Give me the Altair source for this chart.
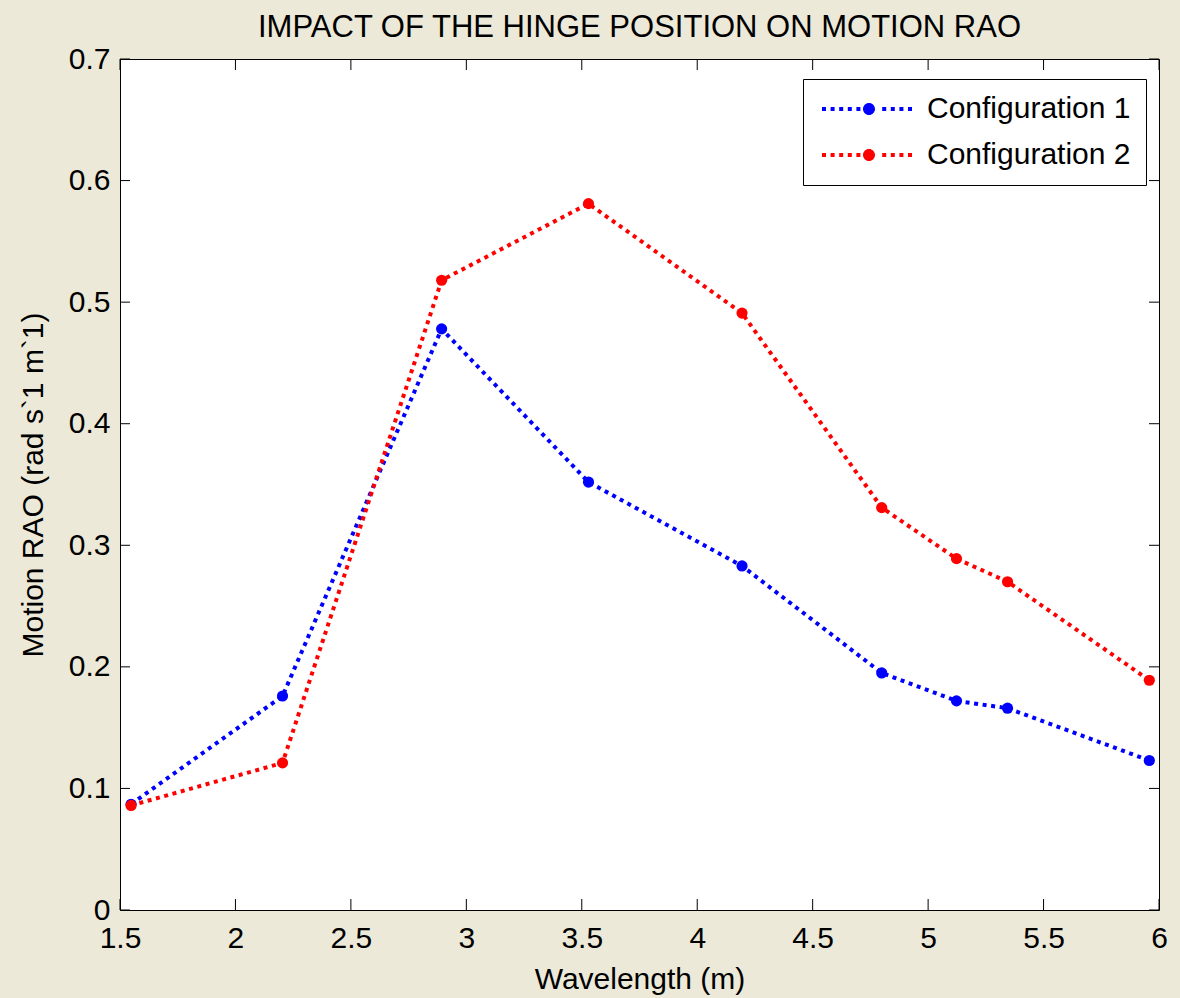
import altair as alt
import pandas as pd

# ---- data ----
wavelength = [1.548, 2.204, 2.893, 3.529, 4.194, 4.799, 5.123, 5.344, 5.958]
config1 = [0.087, 0.176, 0.478, 0.352, 0.283, 0.195, 0.172, 0.166, 0.123]
config2 = [0.086, 0.121, 0.518, 0.581, 0.491, 0.331, 0.289, 0.270, 0.189]
series_names = ["Configuration 1", "Configuration 2"]
series_colors = ["#0000FF", "#FF0000"]
x_ticks = [1.5, 2, 2.5, 3, 3.5, 4, 4.5, 5, 5.5, 6]
y_ticks = [0, 0.1, 0.2, 0.3, 0.4, 0.5, 0.6, 0.7]

rows = []
for w, a, b in zip(wavelength, config1, config2):
    rows.append({"wavelength": w, "rao": a, "series": series_names[0]})
    rows.append({"wavelength": w, "rao": b, "series": series_names[1]})
df = pd.DataFrame(rows)
xt = pd.DataFrame({"t": x_ticks})
yt = pd.DataFrame({"t": y_ticks})

W, H = 1039, 851
FONT = "Liberation Sans"
FS = 30
TICK = 11

xscale = alt.Scale(domain=[1.5, 6], nice=False, zero=False)
yscale = alt.Scale(domain=[0, 0.7], nice=False, zero=False)

# legend symbol: dotted line made of small squares + filled circle (units = px with symbolSize 4)
parts = []
x0 = -47.0
while x0 <= 44:
    c = x0 + 2
    if abs(c) > 9:
        parts.append(f"M{x0:.1f},-2L{x0+4:.1f},-2L{x0+4:.1f},2L{x0:.1f},2Z")
    x0 += 8.6
parts.append("M-6,0A6,6,0,1,1,6,0A6,6,0,1,1,-6,0Z")
legend_path = "".join(parts)

xaxis = alt.Axis(values=x_ticks, format="~f", ticks=False, domain=False, grid=False,
                 labelFontSize=FS, labelFont=FONT, labelColor="black", labelPadding=13,
                 title="Wavelength (m)", titleFontSize=FS, titleFont=FONT,
                 titleFontWeight="normal", titleColor="black", titlePadding=11,
                 labelFlush=False, labelOverlap=False)
yaxis = alt.Axis(values=y_ticks, format="~f", ticks=False, domain=False, grid=False,
                 labelFontSize=FS, labelFont=FONT, labelColor="black", labelPadding=10,
                 title="Motion RAO (rad s`1 m`1)", titleFontSize=FS, titleFont=FONT,
                 titleFontWeight="normal", titleColor="black", titlePadding=20,
                 labelOverlap=False)

line_layers = []
for name, col in zip(series_names, series_colors):
    line_layers.append(
        alt.Chart(df).transform_filter(alt.datum.series == name)
        .mark_line(strokeWidth=4, strokeDash=[4, 4.6], strokeCap="butt", color=col)
        .encode(
            x=alt.X("wavelength:Q", scale=xscale, axis=xaxis),
            y=alt.Y("rao:Q", scale=yscale, axis=yaxis),
        )
    )

points = alt.Chart(df).mark_point(filled=True, shape="circle", size=125, opacity=1).encode(
    x=alt.X("wavelength:Q", scale=xscale),
    y=alt.Y("rao:Q", scale=yscale),
    color=alt.Color(
        "series:N",
        scale=alt.Scale(domain=series_names, range=series_colors),
        legend=alt.Legend(
            title=None, orient="none", legendX=683, legendY=20,
            symbolType=legend_path, symbolSize=4, symbolStrokeWidth=0,
            symbolOpacity=1, symbolOffset=36, labelOffset=43,
            labelFontSize=FS, labelFont=FONT, labelColor="black", labelLimit=500,
            padding=15, rowPadding=16, strokeColor="black", fillColor="white",
            cornerRadius=0,
        ),
    ),
)

xt_bottom = alt.Chart(xt).mark_rule(color="black", strokeWidth=1).encode(
    x=alt.X("t:Q", scale=xscale), y=alt.value(H), y2=alt.value(H - TICK))
xt_top = alt.Chart(xt).mark_rule(color="black", strokeWidth=1).encode(
    x=alt.X("t:Q", scale=xscale), y=alt.value(0), y2=alt.value(TICK))
yt_left = alt.Chart(yt).mark_rule(color="black", strokeWidth=1).encode(
    y=alt.Y("t:Q", scale=yscale), x=alt.value(0), x2=alt.value(10))
yt_right = alt.Chart(yt).mark_rule(color="black", strokeWidth=1).encode(
    y=alt.Y("t:Q", scale=yscale), x=alt.value(W), x2=alt.value(W - 10))

chart = alt.layer(*line_layers, points, xt_bottom, xt_top, yt_left, yt_right).properties(
    width=W, height=H,
    title=alt.Title("IMPACT OF THE HINGE POSITION ON MOTION RAO", fontSize=31, font=FONT,
                    fontWeight="normal", color="black", anchor="middle", offset=20, dy=20),
    autosize=alt.AutoSizeParams(type="none"),
    padding={"left": 120, "top": 59, "right": 21, "bottom": 88},
    background="#ECE9D8",
).configure_view(
    fill="white", stroke="black", strokeWidth=1
)

chart.save("out.html", embed_options={"renderer": "svg", "actions": False})
